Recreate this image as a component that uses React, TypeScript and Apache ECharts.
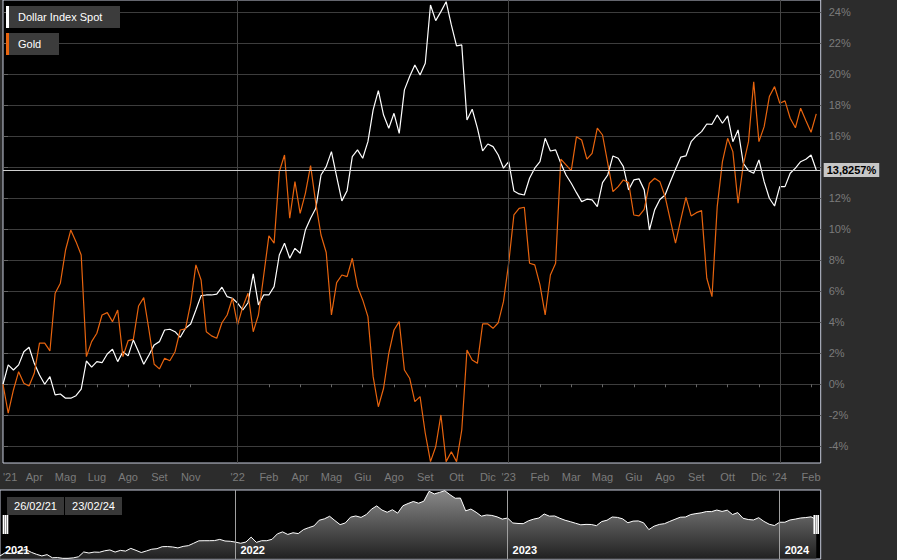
import React, { useEffect, useRef } from "react";
import * as echarts from "echarts";

// Weekly % change since 26/02/21 (index 0) to 23/02/24 (index 156)
const dollarIndex = [
  0.0, 1.25, 0.92, 1.25, 2.1, 2.39, 1.35, 0.6, 0.0, 0.49,
  -0.69, -0.63, -0.9, -0.9, -0.74, -0.32, 1.5, 1.1, 1.46, 1.39,
  1.95, 2.26, 1.46, 2.1, 1.83, 2.86, 2.1, 1.29, 1.89, 2.54,
  2.75, 3.5, 3.55, 3.39, 3.03, 3.61, 3.89, 4.79, 5.72, 5.76,
  5.76, 5.81, 6.26, 5.65, 5.55, 5.23, 4.79, 5.26, 7.12, 5.12,
  5.76, 5.76, 6.3, 8.34, 9.1, 8.13, 8.77, 8.45, 9.95, 10.71,
  11.35, 13.5, 14.04, 15.01, 13.39, 11.83, 12.49, 14.68, 15.12, 14.58,
  15.65, 17.7, 18.94, 17.37, 16.52, 17.48, 16.19, 18.99, 19.85, 20.6,
  19.95, 20.71, 24.47, 23.46, 24.04, 24.68, 23.18, 21.83, 21.89, 17.05,
  17.74, 16.52, 15.05, 15.5, 15.33, 14.79, 13.94, 14.36, 12.47, 12.28,
  12.21, 13.29, 13.94, 14.36, 15.87, 15.05, 15.12, 14.26, 13.5, 12.97,
  12.36, 11.78, 11.94, 11.89, 11.46, 13.01, 13.5, 14.73, 14.58, 14.04,
  12.54, 13.18, 13.25, 12.54, 9.95, 11.25, 11.92, 12.21, 13.07, 13.87,
  14.65, 14.73, 15.65, 16.02, 16.3, 16.79, 16.77, 17.37, 16.84, 17.31,
  15.65, 16.41, 14.26, 13.78, 13.61, 14.47, 13.07, 12.0, 11.5, 12.75,
  12.75, 13.61, 13.94, 14.36, 14.52, 14.79, 13.8257,
];

const gold = [
  0.0, -1.87, -0.37, 0.81, 0.06, -0.11, 0.71, 2.65, 2.65, 2.15,
  5.87, 6.52, 8.66, 9.95, 9.2, 8.34, 1.78, 2.75, 3.29, 4.47,
  4.62, 4.04, 4.79, 1.78, 2.81, 2.9, 5.05, 5.59, 3.5, 1.29,
  0.99, 1.68, 1.52, 2.1, 3.5, 3.57, 5.23, 7.7, 6.73, 3.39,
  3.12, 2.97, 3.97, 4.47, 5.55, 3.83, 5.01, 5.87, 3.39, 4.47,
  7.0, 9.57, 9.1, 13.72, 14.79, 10.71, 13.07, 11.03, 12.32, 14.1,
  11.68, 9.63, 8.5, 4.47, 6.56, 7.05, 6.94, 8.13, 6.3, 5.44,
  4.36, 0.49, -1.45, -0.26, 2.0, 3.5, 4.04, 0.92, 0.39, -1.12,
  -0.8, -3.16, -4.99, -4.03, -1.98, -4.99, -4.35, -4.99, -2.95, 2.21,
  1.57, 1.35, 3.89, 3.89, 3.61, 3.97, 5.33, 7.81, 10.92, 11.35,
  11.42, 7.81, 7.7, 6.41, 4.47, 7.05, 7.81, 14.52, 14.15, 13.78,
  15.97, 15.76, 14.52, 14.9, 16.52, 16.08, 14.26, 12.43, 12.75, 13.18,
  13.01, 10.92, 10.86, 11.29, 12.97, 13.29, 13.07, 12.1, 10.6, 9.1,
  10.6, 12.06, 10.86, 11.07, 11.2, 6.84, 5.65, 11.46, 14.36, 15.87,
  15.01, 11.68, 14.15, 15.65, 19.52, 15.65, 16.62, 18.56, 19.2, 18.13,
  18.28, 17.16, 16.55, 17.81, 17.01, 16.26, 17.44,
];

const seriesNames = ["Dollar Index Spot", "Gold"];
const lastValue = 13.8257;
const lastValueLabel = "13,8257%";

const xTickIdx = [0, 6, 12, 18, 24, 30, 36, 45, 51, 57, 63, 69, 75, 81, 87, 93, 97, 103, 109, 115, 121, 127, 133, 139, 145, 149, 155];
const xTickLabels = ["'21", "Apr", "Mag", "Lug", "Ago", "Set", "Nov", "'22", "Feb", "Apr", "Mag", "Giu", "Ago", "Set", "Ott", "Dic", "'23", "Feb", "Mar", "Mag", "Giu", "Ago", "Set", "Ott", "Dic", "'24", "Feb"];

const yTickValues = [-4, -2, 0, 2, 4, 6, 8, 10, 12, 14, 16, 18, 20, 22, 24];
const yLabelValues = [-4, -2, 0, 2, 4, 6, 8, 10, 12, 16, 18, 20, 22, 24];

const yearIdx = [0, 45, 97, 149];
const yearNames = ["2021", "2022", "2023", "2024"];
const rangeLabels = ["26/02/21", "23/02/24"];

const FONT = "'Liberation Sans', Arial, Helvetica, sans-serif";
const BORDER = "#c7ccdc";
const GRID_LINE = "#3d3d3d";
const LABEL = "#7b7b7b";
const WHITE = "#ffffff";
const ORANGE = "#e8640e";

export default function App() {
  const ref = useRef<HTMLDivElement>(null);

  useEffect(() => {
    if (!ref.current) return;
    const chart = echarts.init(ref.current, null, { renderer: "svg" });
    const dollarPts = dollarIndex.map((v, i) => [i, v]);
    const goldPts = gold.map((v, i) => [i, v]);
    const xMax = 156.85;

    chart.setOption({
      animation: false,
      backgroundColor: "#2c2c2c",
      textStyle: { fontFamily: FONT },
      grid: [
        { left: 0, top: 0, width: 820.7, height: 463, show: true, backgroundColor: "#000", borderColor: BORDER, borderWidth: 1 },
        { left: 0, top: 490, width: 820.7, height: 69, show: true, backgroundColor: "#000", borderColor: BORDER, borderWidth: 1 },
      ],
      xAxis: [
        {
          type: "value",
          gridIndex: 0,
          min: 0,
          max: xMax,
          axisLine: { show: false },
          splitLine: { show: false },
          axisTick: { show: true, customValues: xTickIdx, length: 3, lineStyle: { color: "#666" } },
          axisLabel: {
            customValues: xTickIdx,
            formatter: (v: number) => xTickLabels[xTickIdx.indexOf(Math.round(v))] ?? "",
            color: LABEL,
            fontSize: 11,
            fontFamily: FONT,
            margin: 8,
            alignMinLabel: "left",
          },
        },
        { type: "value", gridIndex: 1, min: 0, max: xMax, show: false },
      ],
      yAxis: [
        {
          type: "value",
          gridIndex: 0,
          position: "right",
          min: -5.08,
          max: 24.79,
          axisLine: { show: false },
          axisTick: { show: true, customValues: yTickValues, length: 5, lineStyle: { color: "#666" } },
          splitLine: { show: true, lineStyle: { color: GRID_LINE, width: 1 } },
          axisLabel: {
            customValues: yLabelValues,
            formatter: (v: number) => `${v}%`,
            color: LABEL,
            fontSize: 11,
            fontFamily: FONT,
            margin: 8,
          },
        },
        { type: "value", gridIndex: 1, min: -1.16, max: 24.95, show: false },
      ],
      series: [
        {
          name: seriesNames[0],
          type: "line",
          xAxisIndex: 0,
          yAxisIndex: 0,
          data: dollarPts,
          symbol: "none",
          lineStyle: { color: WHITE, width: 1.2 },
          z: 3,
          markLine: {
            silent: true,
            symbol: ["none", "none"],
            animation: false,
            data: [
              ...yearIdx.slice(1).map((i) => ({
                xAxis: i,
                lineStyle: { color: "#444", width: 1, type: "solid" },
                label: { show: false },
              })),
              {
                yAxis: lastValue,
                lineStyle: { color: "#d0d0d0", width: 1, type: "solid" },
                label: {
                  show: true,
                  position: "end",
                  distance: 3,
                  formatter: lastValueLabel,
                  backgroundColor: "#c6c6c6",
                  color: "#000",
                  fontWeight: "bold",
                  fontSize: 11,
                  fontFamily: FONT,
                  padding: [2, 3, 1, 3],
                },
              },
            ],
          },
        },
        {
          name: seriesNames[1],
          type: "line",
          xAxisIndex: 0,
          yAxisIndex: 0,
          data: goldPts,
          symbol: "none",
          lineStyle: { color: ORANGE, width: 1.2 },
          z: 4,
        },
        {
          name: "navigator",
          type: "line",
          xAxisIndex: 1,
          yAxisIndex: 1,
          data: dollarPts,
          symbol: "none",
          lineStyle: { color: WHITE, width: 1 },
          areaStyle: {
            origin: "start",
            color: new echarts.graphic.LinearGradient(0, 0, 0, 1, [
              { offset: 0, color: "#c2c2c2" },
              { offset: 1, color: "#2e2e2e" },
            ]),
          },
          markLine: {
            silent: true,
            symbol: ["none", "none"],
            animation: false,
            data: yearIdx.slice(1).map((i) => ({
              xAxis: i,
              lineStyle: { color: "#a0a0a0", width: 1, type: "solid" },
              label: { show: false },
            })),
          },
        },
      ],
    });

    const textStyle = (text: string, x: number, y: number, fill: string, weight = "normal", align = "left") => ({
      text,
      x,
      y,
      fill,
      font: `${weight} 11px ${FONT}`,
      textAlign: align,
      textVerticalAlign: "middle",
      align,
      verticalAlign: "middle",
    });

    const graphics: any[] = [];
    // legend
    const legendItems = [
      { name: seriesNames[0], color: WHITE, y: 6, w: 114 },
      { name: seriesNames[1], color: ORANGE, y: 33, w: 53 },
    ];
    legendItems.forEach((it) => {
      graphics.push({ type: "rect", shape: { x: 6, y: it.y, width: it.w, height: 22 }, style: { fill: "#3c3c3c" }, z: 100 });
      graphics.push({ type: "rect", shape: { x: 6, y: it.y, width: 3, height: 22 }, style: { fill: it.color }, z: 101 });
      graphics.push({ type: "text", style: textStyle(it.name, 18, it.y + 11, "#ffffff"), z: 101 });
    });
    // navigator range labels
    rangeLabels.forEach((t, k) => {
      const x = 7 + k * 58;
      graphics.push({ type: "rect", shape: { x, y: 497, width: 57, height: 18 }, style: { fill: "#383838" }, z: 100 });
      graphics.push({ type: "text", style: textStyle(t, x + 28.5, 506, "#ffffff", "normal", "center"), z: 101 });
    });
    // navigator year labels
    yearIdx.forEach((idx, k) => {
      const px = chart.convertToPixel({ xAxisIndex: 1 }, idx) as number;
      graphics.push({ type: "text", style: textStyle(yearNames[k], px + 5, 550, "#ffffff", "bold"), z: 101 });
    });
    // navigator handles
    const x0 = chart.convertToPixel({ xAxisIndex: 1 }, 0) as number;
    const x1 = chart.convertToPixel({ xAxisIndex: 1 }, dollarIndex.length - 1) as number;
    [x0 + 5.5, x1].forEach((cx) => {
      graphics.push({ type: "rect", shape: { x: cx - 2.8, y: 515, width: 5.6, height: 19 }, style: { fill: "#ffffff" }, z: 102 });
      graphics.push({ type: "rect", shape: { x: cx - 1.2, y: 515, width: 0.6, height: 19 }, style: { fill: "#555" }, z: 103 });
      graphics.push({ type: "rect", shape: { x: cx + 0.6, y: 515, width: 0.6, height: 19 }, style: { fill: "#555" }, z: 103 });
    });
    chart.setOption({ graphic: graphics });

    return () => chart.dispose();
  }, []);

  return <div ref={ref} style={{ position: "fixed", left: 0, top: 0, width: 897, height: 560 }} />;
}
